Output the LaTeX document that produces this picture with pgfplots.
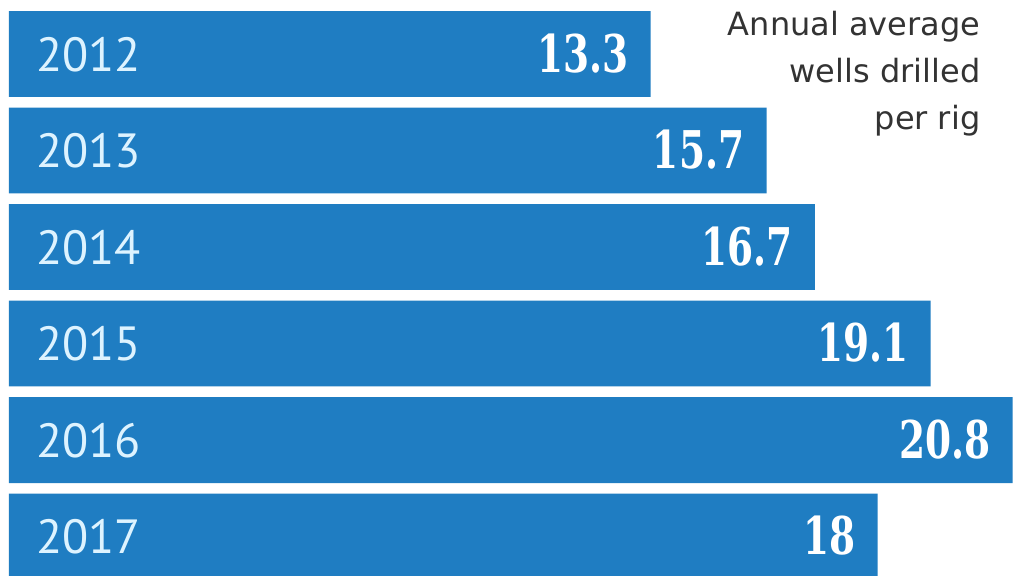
\documentclass[border=0pt]{standalone}
\usepackage{fontspec}
\setmainfont{DejaVu Sans}
\newfontfamily\yearfont{PT Sans}
\newfontfamily\valfont{DejaVu Serif}[FakeStretch=0.72]
\usepackage{pgfplots}
\usepackage{pgfplotstable}
\pgfplotsset{compat=1.18}

\definecolor{barblue}{HTML}{1F7DC2}
\definecolor{yeartxt}{HTML}{DDF3FF}
\definecolor{notetxt}{HTML}{333333}

% idx = bar position from the top
\pgfplotstableread{
idx year value
0 2012 13.3
1 2013 15.7
2 2014 16.7
3 2015 19.1
4 2016 20.8
5 2017 18
}\wells

\begin{document}
\begin{tikzpicture}
\begin{axis}[
    scale only axis,
    width=506.5pt, height=287.5pt,
    hide axis,
    y dir=reverse,
    xmin=-0.1865, xmax=20.808,
    ymin=-0.5596, ymax=5.399,
]
\coordinate (bl) at (rel axis cs:0,0);
\coordinate (tr) at (rel axis cs:1,1);
% bars with their values
\addplot[xbar, bar width=0.891, fill=barblue, draw=none,
    point meta=explicit symbolic,
    nodes near coords,
    every node near coord/.style={anchor=base east, xshift=-11pt, yshift=-9pt,
        inner sep=0pt, text=white, font=\valfont\bfseries\fontsize{26}{30}\selectfont},
] table[x=value, y=idx, meta=value] {\wells};
% year labels inside the bars
\addplot[draw=none, mark=none,
    point meta=explicit symbolic,
    nodes near coords,
    every node near coord/.style={anchor=base west, xshift=13.5pt, yshift=-8.5pt,
        inner sep=0pt, text=yeartxt, font=\yearfont\fontsize{24}{30}\selectfont},
] table[x expr=0, y=idx, meta=year] {\wells};
\node[anchor=north east, align=right, inner sep=0pt, text=notetxt,
    font=\fontsize{16}{23.5}\selectfont]
    at (axis cs:20.14,-0.45) {Annual average\\wells drilled\\per rig};
\end{axis}
\pgfresetboundingbox
\useasboundingbox (bl) rectangle (tr);
\end{tikzpicture}
\end{document}
